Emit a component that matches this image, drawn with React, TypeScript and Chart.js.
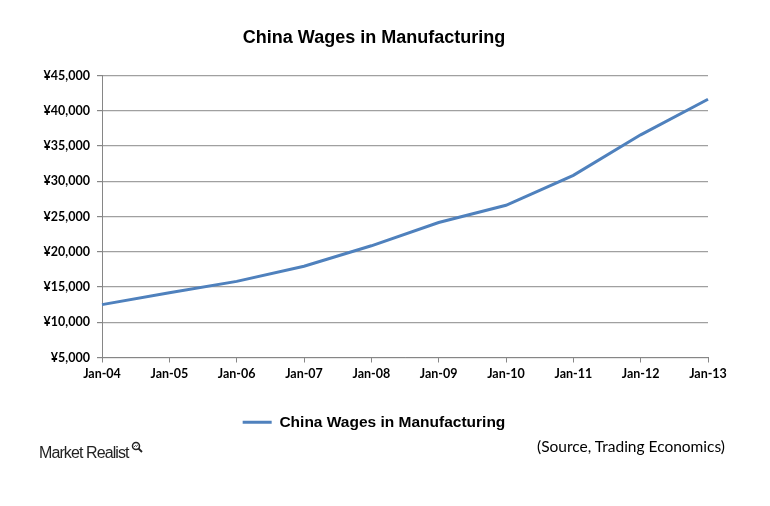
import React, { useEffect, useRef } from "react";
import { Chart, registerables } from "chart.js";

Chart.register(...registerables);

const categories = ["Jan-04", "Jan-05", "Jan-06", "Jan-07", "Jan-08", "Jan-09", "Jan-10", "Jan-11", "Jan-12", "Jan-13"];
const wages = [12500, 14200, 15800, 17950, 20850, 24150, 26600, 30850, 36600, 41650];
const yTickValues = [5000, 10000, 15000, 20000, 25000, 30000, 35000, 40000, 45000];
const seriesName = "China Wages in Manufacturing";
const titleText = "China Wages in Manufacturing";
const sourceText = "(Source, Trading Economics)";
const brandText = "Market Realist";

const formatYen = (v: number) => "¥" + v.toLocaleString("en-US");

export default function App() {
  const canvasRef = useRef<HTMLCanvasElement | null>(null);

  useEffect(() => {
    if (!canvasRef.current) return;
    const chart = new Chart(canvasRef.current, {
      type: "line",
      data: {
        labels: categories,
        datasets: [
          {
            label: seriesName,
            data: wages,
            borderColor: "#4F81BD",
            backgroundColor: "#4F81BD",
            borderWidth: 3,
            pointRadius: 0,
            pointStyle: "line",
            tension: 0,
            fill: false,
          },
        ],
      },
      options: {
        responsive: false,
        animation: false,
        layout: { padding: { left: 40, right: 62, top: 0, bottom: 66 } },
        plugins: {
          title: {
            display: true,
            text: titleText,
            color: "#000",
            font: { family: "'Liberation Sans', Arial, sans-serif", size: 18, weight: "bold" },
            padding: { top: 27, bottom: 27 },
          },
          legend: {
            display: true,
            position: "bottom",
            labels: {
              usePointStyle: true,
              pointStyle: "line",
              pointStyleWidth: 29,
              padding: 27,
              color: "#000",
              font: { family: "'Liberation Sans', Arial, sans-serif", size: 15.5, weight: "bold" },
            },
          },
          tooltip: { enabled: false },
        },
        scales: {
          x: {
            type: "category",
            offset: false,
            afterFit: (s: any) => {
              s.height = 30;
            },
            grid: {
              display: true,
              drawOnChartArea: false,
              drawTicks: true,
              tickLength: 5,
              color: "#868686",
              tickColor: "#868686",
            },
            border: { display: true, color: "#868686", width: 1 },
            ticks: {
              color: "#000",
              padding: 4,
              maxRotation: 0,
              autoSkip: false,
              font: { family: "Lato, sans-serif", size: 12.5, weight: "bold" },
            },
          },
          y: {
            min: 5000,
            max: 45000,
            afterFit: (s: any) => {
              s.width = 62;
            },
            afterBuildTicks: (s: any) => {
              s.ticks = yTickValues.map((v) => ({ value: v }));
            },
            grid: {
              display: true,
              color: "#a0a0a0",
              lineWidth: 1.2,
              drawTicks: true,
              tickLength: 5,
              tickColor: "#868686",
            },
            border: { display: true, color: "#868686", width: 1 },
            ticks: {
              color: "#000",
              padding: 7,
              font: { family: "Lato, sans-serif", size: 12.5, weight: "bold" },
              callback: (v: any) => formatYen(Number(v)),
            },
          },
        },
      },
    });
    return () => chart.destroy();
  }, []);

  return (
    <div style={{ position: "absolute", left: 0, top: 0, width: 770, height: 506, background: "#fff", overflow: "hidden" }}>
      <canvas ref={canvasRef} width={770} height={506} style={{ position: "absolute", left: 0, top: 0, width: 770, height: 506 }} />
      <div
        style={{
          position: "absolute",
          left: 39,
          top: 442,
          fontFamily: "'Liberation Sans', Arial, sans-serif",
          fontSize: 16,
          letterSpacing: -0.9,
          color: "#222",
          whiteSpace: "nowrap",
          lineHeight: "22px",
          display: "flex",
          alignItems: "flex-start",
        }}
      >
        <span>{brandText}</span>
        <svg width="12" height="12" viewBox="0 0 12 12" style={{ marginLeft: 2, marginTop: -1 }}>
          <circle cx="5" cy="5" r="3.5" fill="none" stroke="#222" strokeWidth="1.5" />
          <line x1="7.5" y1="7.5" x2="11" y2="11" stroke="#222" strokeWidth="1.8" />
          <path d="M3 6 L4.5 4.5 L5.5 5.5 L7 3.5" fill="none" stroke="#222" strokeWidth="0.8" />
        </svg>
      </div>
      <div
        style={{
          position: "absolute",
          right: 770 - 725,
          top: 436,
          fontFamily: "Lato, sans-serif",
          fontSize: 15.5,
          color: "#000",
          whiteSpace: "nowrap",
          lineHeight: "20px",
        }}
      >
        {sourceText}
      </div>
    </div>
  );
}
